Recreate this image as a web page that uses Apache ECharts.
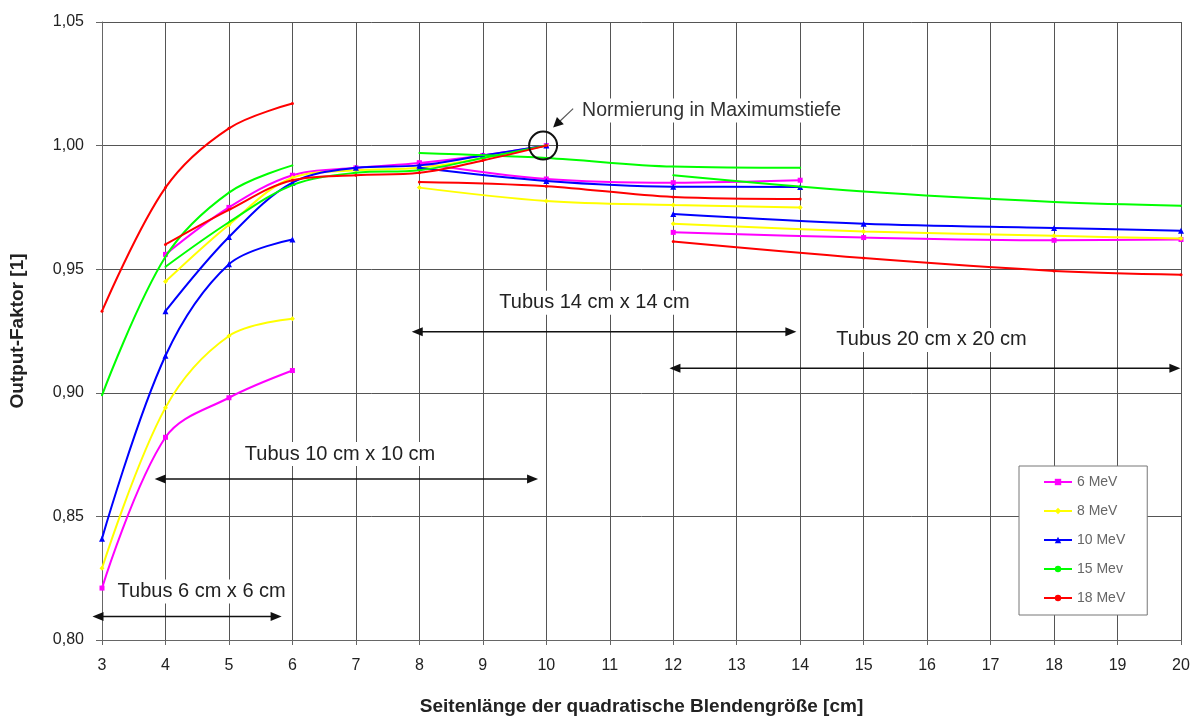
<!DOCTYPE html>
<html>
<head>
<meta charset="utf-8">
<script src="https://cdn.jsdelivr.net/npm/echarts@6/dist/echarts.min.js"></script>
<style>
html,body{margin:0;padding:0;background:#fff;}
#chart{width:1201px;height:720px;}
</style>
</head>
<body>
<div id="chart"></div>
<script>
// ---- Data ----
const legendNames = ['6 MeV', '8 MeV', '10 MeV', '15 Mev', '18 MeV'];
const yTicks = [0.80, 0.85, 0.90, 0.95, 1.00, 1.05];

// x positions per Tubus
const xTubus6 = [3, 4, 5, 6];
const xTubus10 = [4, 5, 6, 7, 8, 9, 10];
const xTubus14 = [8, 10, 12, 14];
const xTubus20 = [12, 15, 18, 20];

// Tubus 6 cm x 6 cm
const t6_6MeV  = [0.821, 0.882, 0.898, 0.909];
const t6_8MeV  = [0.829, 0.894, 0.923, 0.930];
const t6_10MeV = [0.841, 0.915, 0.952, 0.962];
const t6_15MeV = [0.899, 0.955, 0.981, 0.992];
const t6_18MeV = [0.933, 0.983, 1.007, 1.017];

// Tubus 10 cm x 10 cm
const t10_6MeV  = [0.956, 0.975, 0.988, 0.991, 0.993, 0.996, 1.000];
const t10_8MeV  = [0.945, 0.968, 0.987, 0.990, 0.991, 0.995, 1.000];
const t10_10MeV = [0.933, 0.963, 0.985, 0.991, 0.992, 0.996, 1.000];
const t10_15MeV = [0.951, 0.969, 0.984, 0.989, 0.990, 0.995, 1.000];
const t10_18MeV = [0.960, 0.974, 0.986, 0.988, 0.989, 0.994, 1.000];

// Tubus 14 cm x 14 cm
const t14_6MeV  = [0.993, 0.9865, 0.985, 0.986];
const t14_8MeV  = [0.983, 0.9776, 0.976, 0.975];
const t14_10MeV = [0.991, 0.9857, 0.9834, 0.9833];
const t14_15MeV = [0.997, 0.995, 0.9915, 0.991];
const t14_18MeV = [0.9853, 0.9836, 0.9792, 0.9784];

// Tubus 20 cm x 20 cm
const t20_6MeV  = [0.9649, 0.9628, 0.9617, 0.962];
const t20_8MeV  = [0.9684, 0.9653, 0.9635, 0.9624];
const t20_10MeV = [0.9723, 0.9684, 0.9667, 0.9656];
const t20_15MeV = [0.988, 0.9814, 0.9772, 0.9757];
const t20_18MeV = [0.9612, 0.9545, 0.9493, 0.9478];

// Annotation texts
const tubusLabels = ['Tubus 6 cm x 6 cm', 'Tubus 10 cm x 10 cm', 'Tubus 14 cm x 14 cm', 'Tubus 20 cm x 20 cm'];
const normText = 'Normierung in Maximumstiefe';

// ---- Styles ----
const styles = [
  {color: '#FF00FF', symbol: 'rect', size: 5},
  {color: '#FFFF00', symbol: 'diamond', size: 5},
  {color: '#0000FF', symbol: 'triangle', size: 6},
  {color: '#00FF00', symbol: 'circle', size: 2},
  {color: '#FF0000', symbol: 'circle', size: 3}
];

const groups = [
  {x: xTubus6,  ys: [t6_6MeV, t6_8MeV, t6_10MeV, t6_15MeV, t6_18MeV]},
  {x: xTubus10, ys: [t10_6MeV, t10_8MeV, t10_10MeV, t10_15MeV, t10_18MeV]},
  {x: xTubus14, ys: [t14_6MeV, t14_8MeV, t14_10MeV, t14_15MeV, t14_18MeV]},
  {x: xTubus20, ys: [t20_6MeV, t20_8MeV, t20_10MeV, t20_15MeV, t20_18MeV]}
];

// annotation positions (data coordinates)
const arrowDefs = [
  {from: [2.85, 0.8095], to: [5.83, 0.8095], text: [4.57, 0.8196]},
  {from: [3.83, 0.8651], to: [9.87, 0.8651], text: [6.75, 0.8752]},
  {from: [7.88, 0.9247], to: [13.94, 0.9247], text: [10.76, 0.9364]},
  {from: [11.94, 0.9099], to: [19.99, 0.9099], text: [16.07, 0.9214]}
];

const series = [];
for (let e = 0; e < 5; e++) {
  for (let g = 0; g < groups.length; g++) {
    const xs = groups[g].x, ys = groups[g].ys[e];
    series.push({
      name: legendNames[e],
      type: 'line',
      data: xs.map((x, i) => [x, ys[i]]),
      smooth: 0.35,
      symbol: styles[e].symbol,
      symbolSize: styles[e].size,
      showSymbol: true,
      lineStyle: {color: styles[e].color, width: 2},
      itemStyle: {color: styles[e].color},
      emphasis: {disabled: true},
      z: 2 + e
    });
  }
}

const chart = echarts.init(document.getElementById('chart'), null, {renderer: 'canvas'});
const FONT = '"Liberation Sans", Arial, sans-serif';

chart.setOption({
  animation: false,
  backgroundColor: '#fff',
  grid: {left: 102, right: 20, top: 22, bottom: 80, containLabel: false, outerBoundsMode: 'none'},
  legend: {
    data: legendNames,
    orient: 'vertical',
    left: 1019,
    top: 466,
    padding: [9, 22, 10, 24],
    itemGap: 15,
    itemWidth: 28,
    itemHeight: 8,
    borderColor: '#777',
    borderWidth: 1,
    backgroundColor: '#fff',
    textStyle: {fontFamily: FONT, fontSize: 14, color: '#666'},
    selectedMode: false
  },
  xAxis: {
    type: 'value', min: 3, max: 20, interval: 1,
    name: 'Seitenlänge der quadratische Blendengröße [cm]',
    nameLocation: 'middle', nameGap: 57,
    nameTextStyle: {fontFamily: FONT, fontSize: 19, fontWeight: 'bold', color: '#222'},
    axisLine: {show: true, lineStyle: {color: '#666', width: 1}},
    axisTick: {show: true, length: 5, lineStyle: {color: '#666'}},
    axisLabel: {fontFamily: FONT, fontSize: 16, color: '#222', margin: 18},
    splitLine: {show: true, lineStyle: {color: '#555', width: 1}}
  },
  yAxis: {
    type: 'value', min: 0.8, max: 1.05, interval: 0.05,
    name: 'Output-Faktor [1]',
    nameLocation: 'middle', nameGap: 75, nameRotate: 90,
    nameTextStyle: {fontFamily: FONT, fontSize: 19, fontWeight: 'bold', color: '#222'},
    axisLine: {show: true, lineStyle: {color: '#666', width: 1}},
    axisTick: {show: true, length: 6, lineStyle: {color: '#666'}},
    axisLabel: {fontFamily: FONT, fontSize: 16, color: '#222', margin: 18,
      formatter: v => v.toFixed(2).replace('.', ',')},
    splitLine: {show: true, lineStyle: {color: '#555', width: 1}}
  },
  series: series
});

// graphic annotations positioned through the axis scales
function px(p) { return chart.convertToPixel({gridIndex: 0}, p); }
function arrowHead(tip, ux, uy, len, half) {
  return {type: 'polygon', z: 20, shape: {points: [
    tip,
    [tip[0] - ux * len - uy * half, tip[1] - uy * len + ux * half],
    [tip[0] - ux * len + uy * half, tip[1] - uy * len - ux * half]
  ]}, style: {fill: '#111'}};
}
const graphics = [];
arrowDefs.forEach((a, i) => {
  const p0 = px(a.from), p1 = px(a.to);
  graphics.push({type: 'line', z: 19, shape: {x1: p0[0] + 6, y1: p0[1], x2: p1[0] - 6, y2: p1[1]},
    style: {stroke: '#111', lineWidth: 1.5}});
  graphics.push(arrowHead(p1, 1, 0, 11, 4.5));
  graphics.push(arrowHead(p0, -1, 0, 11, 4.5));
  const p = px(a.text);
  graphics.push({
    type: 'text', x: p[0], y: p[1], z: 20,
    style: {text: tubusLabels[i], font: '20px ' + FONT, fill: '#222',
      align: 'center', verticalAlign: 'middle', backgroundColor: '#fff', padding: [2, 4]}
  });
});
const c = px([9.95, 1.0]);
graphics.push({type: 'circle', shape: {cx: c[0], cy: c[1], r: 14}, z: 20,
  style: {fill: 'none', stroke: '#111', lineWidth: 2}});
const a0 = [c[0] + 30, c[1] - 37], a1 = [c[0] + 10, c[1] - 18];
const dx = a1[0] - a0[0], dy = a1[1] - a0[1], L = Math.hypot(dx, dy);
const ux = dx / L, uy = dy / L;
graphics.push({type: 'line', shape: {x1: a0[0], y1: a0[1], x2: a1[0] - ux * 6, y2: a1[1] - uy * 6}, z: 20,
  style: {stroke: '#555', lineWidth: 1.2}});
graphics.push(arrowHead(a1, ux, uy, 10, 5));
graphics.push({type: 'text', x: c[0] + 36, y: c[1] - 35, z: 20,
  style: {text: normText, font: '19.5px ' + FONT, fill: '#333',
    align: 'left', verticalAlign: 'middle', backgroundColor: '#fff', padding: [2, 3]}});
chart.setOption({graphic: graphics});
</script>
</body>
</html>
